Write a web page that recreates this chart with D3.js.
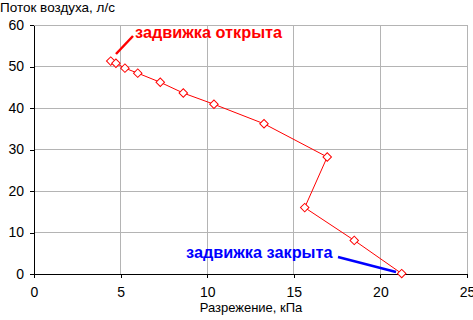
<!DOCTYPE html>
<html>
<head>
<meta charset="utf-8">
<script src="https://cdn.jsdelivr.net/npm/d3@7"></script>
<style>
  body { margin: 0; background: #fff; }
  svg { display: block; font-family: "Liberation Sans", Arial, sans-serif; }
</style>
</head>
<body>
<div id="chart"></div>
<script>
// values
const pressure = [4.43, 4.73, 5.25, 5.99, 7.29, 8.62, 10.39, 13.28, 16.93, 15.63, 18.49, 21.23];
const airflow  = [51.3, 50.8, 49.6, 48.4, 46.2, 43.6, 40.9, 36.2, 28.2, 16.0, 8.1, 0.1];
const xTicks = [0, 5, 10, 15, 20, 25];
const yTicks = [0, 10, 20, 30, 40, 50, 60];
const labelOpen = "задвижка открыта";
const labelClosed = "задвижка закрыта";

const width = 473, height = 320;
const margin = {top: 25, right: 6, bottom: 46, left: 34};

const svg = d3.select("#chart").append("svg")
    .attr("width", width)
    .attr("height", height);

let x = d3.scaleLinear()
    .domain([0, 25])
    .range([margin.left, width - margin.right]);

let y = d3.scaleLinear()
    .domain([0, 60])
    .range([height - margin.bottom, margin.top]);

// grid
svg.append("g")
  .selectAll("line")
  .data(xTicks.slice(1))
  .enter().append("line")
    .attr("x1", d => x(d)).attr("x2", d => x(d))
    .attr("y1", y(0)).attr("y2", y(60))
    .attr("stroke", "#b4b4b4")
    .attr("stroke-width", 1)
    .attr("shape-rendering", "crispEdges");

svg.append("g")
  .selectAll("line")
  .data(yTicks.slice(1))
  .enter().append("line")
    .attr("x1", x(0)).attr("x2", x(25))
    .attr("y1", d => y(d)).attr("y2", d => y(d))
    .attr("stroke", "#b4b4b4")
    .attr("stroke-width", 1)
    .attr("shape-rendering", "crispEdges");

// axes
let xAxis = g => g
    .attr("transform", `translate(0,${y(0)})`)
    .call(d3.axisBottom(x).tickValues(xTicks).tickSize(4).tickSizeOuter(0).tickPadding(9));

let yAxis = g => g
    .attr("transform", `translate(${x(0)},0)`)
    .call(d3.axisLeft(y).tickValues(yTicks).tickSize(4).tickSizeOuter(0).tickPadding(6));

[xAxis, yAxis].forEach(ax => {
  const g = svg.append("g").call(ax);
  g.selectAll("text").style("font-size", "14px").attr("fill", "#000");
  g.selectAll("line").attr("stroke", "#000").attr("shape-rendering", "crispEdges");
  g.select(".domain").attr("stroke", "#000").attr("shape-rendering", "crispEdges");
});

// titles
svg.append("text")
    .attr("x", 0)
    .attr("y", 12)
    .style("font-size", "13.5px")
    .text("Поток воздуха, л/с");

svg.append("text")
    .attr("x", 251)
    .attr("y", 312)
    .attr("text-anchor", "middle")
    .style("font-size", "13px")
    .text("Разрежение, кПа");

// series
const data = pressure.map((p, i) => ({x: p, y: airflow[i]}));

svg.append("path")
    .datum(data)
    .attr("fill", "none")
    .attr("stroke", "#ff0000")
    .attr("stroke-width", 1)
    .attr("d", d3.line().x(d => x(d.x)).y(d => y(d.y)));

svg.append("g")
  .selectAll("path")
  .data(data)
  .enter().append("path")
    .attr("transform", d => `translate(${x(d.x)},${y(d.y)}) rotate(45)`)
    .attr("d", "M-3,-3h6v6h-6z")
    .attr("fill", "#fff")
    .attr("stroke", "#ff0000")
    .attr("stroke-width", 1);

// annotations
svg.append("line")
    .attr("x1", 116).attr("y1", 54)
    .attr("x2", 133).attr("y2", 36)
    .attr("stroke", "#ff0000")
    .attr("stroke-width", 2.5);

svg.append("text")
    .attr("x", 135)
    .attr("y", 38)
    .attr("fill", "#ff0000")
    .attr("font-weight", "bold")
    .style("font-size", "16.3px")
    .text(labelOpen);

svg.append("line")
    .attr("x1", 338).attr("y1", 257)
    .attr("x2", 396).attr("y2", 272)
    .attr("stroke", "#0000ff")
    .attr("stroke-width", 2.5);

svg.append("text")
    .attr("x", 186)
    .attr("y", 258)
    .attr("fill", "#0000ff")
    .attr("font-weight", "bold")
    .style("font-size", "16.3px")
    .text(labelClosed);
</script>
</body>
</html>
